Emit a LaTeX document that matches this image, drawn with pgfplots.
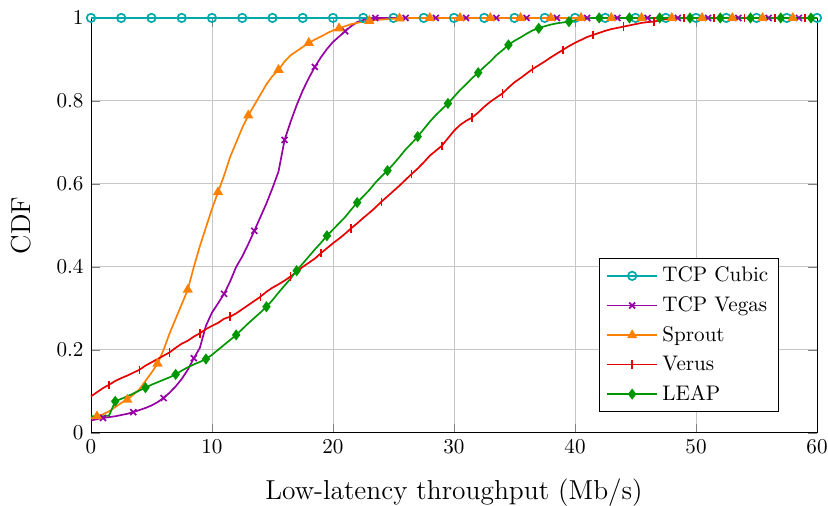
\documentclass[border=0pt]{standalone}
\usepackage{pgfplots}
\usepackage{pgfplotstable}
\usetikzlibrary{calc}
\pgfplotsset{compat=1.18}
\definecolor{cubicc}{RGB}{0,170,170}
\definecolor{vegasc}{RGB}{150,0,165}
\definecolor{sproutc}{RGB}{255,128,0}
\definecolor{verusc}{RGB}{230,0,0}
\definecolor{leapc}{RGB}{0,150,0}
\pgfplotstableread{
x cubic vegas sprout verus leap
0 1 0.030 0.035 0.088 0.040
0.5 1 0.033 0.040 0.098 0.040
1 1 0.036 0.045 0.108 0.040
1.5 1 0.038 0.052 0.116 0.042
2 1 0.040 0.062 0.125 0.076
2.5 1 0.043 0.072 0.132 0.082
3 1 0.046 0.080 0.138 0.088
3.5 1 0.050 0.092 0.145 0.095
4 1 0.055 0.105 0.152 0.102
4.5 1 0.060 0.125 0.162 0.109
5 1 0.066 0.145 0.170 0.116
5.5 1 0.074 0.167 0.178 0.122
6 1 0.084 0.200 0.186 0.128
6.5 1 0.097 0.240 0.194 0.134
7 1 0.112 0.275 0.205 0.141
7.5 1 0.130 0.310 0.215 0.150
8 1 0.152 0.345 0.222 0.158
8.5 1 0.180 0.400 0.232 0.165
9 1 0.205 0.450 0.240 0.171
9.5 1 0.258 0.495 0.250 0.178
10 1 0.290 0.540 0.258 0.188
10.5 1 0.312 0.580 0.265 0.200
11 1 0.335 0.620 0.275 0.212
11.5 1 0.365 0.665 0.280 0.224
12 1 0.400 0.700 0.288 0.236
12.5 1 0.425 0.735 0.298 0.250
13 1 0.455 0.765 0.308 0.264
13.5 1 0.487 0.790 0.318 0.277
14 1 0.520 0.815 0.328 0.290
14.5 1 0.553 0.840 0.340 0.304
15 1 0.590 0.860 0.350 0.320
15.5 1 0.630 0.875 0.358 0.338
16 1 0.706 0.895 0.367 0.355
16.5 1 0.750 0.910 0.377 0.372
17 1 0.790 0.920 0.388 0.391
17.5 1 0.825 0.930 0.400 0.408
18 1 0.855 0.940 0.410 0.425
18.5 1 0.882 0.948 0.420 0.442
19 1 0.905 0.955 0.433 0.458
19.5 1 0.925 0.963 0.445 0.475
20 1 0.942 0.970 0.457 0.490
20.5 1 0.955 0.975 0.468 0.505
21 1 0.968 0.980 0.480 0.520
21.5 1 0.980 0.985 0.493 0.538
22 1 0.990 0.988 0.505 0.555
22.5 1 0.995 0.991 0.518 0.570
23 1 0.998 0.993 0.530 0.585
23.5 1 1 0.995 0.543 0.603
24 1 1 0.996 0.557 0.618
24.5 1 1 0.997 0.570 0.632
25 1 1 0.998 0.583 0.648
25.5 1 1 0.999 0.596 0.665
26 1 1 1 0.610 0.683
26.5 1 1 1 0.624 0.698
27 1 1 1 0.637 0.714
27.5 1 1 1 0.652 0.732
28 1 1 1 0.668 0.750
28.5 1 1 1 0.680 0.766
29 1 1 1 0.692 0.780
29.5 1 1 1 0.710 0.794
30 1 1 1 0.728 0.810
30.5 1 1 1 0.742 0.826
31 1 1 1 0.752 0.840
31.5 1 1 1 0.760 0.855
32 1 1 1 0.772 0.868
32.5 1 1 1 0.786 0.882
33 1 1 1 0.798 0.895
33.5 1 1 1 0.808 0.910
34 1 1 1 0.818 0.922
34.5 1 1 1 0.832 0.935
35 1 1 1 0.845 0.945
35.5 1 1 1 0.855 0.953
36 1 1 1 0.866 0.962
36.5 1 1 1 0.877 0.970
37 1 1 1 0.886 0.975
37.5 1 1 1 0.895 0.980
38 1 1 1 0.905 0.984
38.5 1 1 1 0.914 0.987
39 1 1 1 0.923 0.989
39.5 1 1 1 0.932 0.991
40 1 1 1 0.940 0.994
40.5 1 1 1 0.947 0.997
41 1 1 1 0.954 0.999
41.5 1 1 1 0.959 1
42 1 1 1 0.964 1
42.5 1 1 1 0.969 1
43 1 1 1 0.973 1
43.5 1 1 1 0.976 1
44 1 1 1 0.979 1
44.5 1 1 1 0.982 1
45 1 1 1 0.985 1
45.5 1 1 1 0.988 1
46 1 1 1 0.990 1
46.5 1 1 1 0.991 1
47 1 1 1 0.994 1
47.5 1 1 1 0.997 1
48 1 1 1 0.999 1
48.5 1 1 1 1 1
49 1 1 1 1 1
49.5 1 1 1 1 1
50 1 1 1 1 1
50.5 1 1 1 1 1
51 1 1 1 1 1
51.5 1 1 1 1 1
52 1 1 1 1 1
52.5 1 1 1 1 1
53 1 1 1 1 1
53.5 1 1 1 1 1
54 1 1 1 1 1
54.5 1 1 1 1 1
55 1 1 1 1 1
55.5 1 1 1 1 1
56 1 1 1 1 1
56.5 1 1 1 1 1
57 1 1 1 1 1
57.5 1 1 1 1 1
58 1 1 1 1 1
58.5 1 1 1 1 1
59 1 1 1 1 1
59.5 1 1 1 1 1
60 1 1 1 1 1
}\datatable
\begin{document}
\begin{tikzpicture}
\begin{axis}[
  scale only axis,
  width=344pt, height=196.6pt,
  xmin=0, xmax=60, ymin=0, ymax=1,
  xtick={0,10,...,60},
  ytick={0,0.2,...,1},
  grid=major,
  major grid style={gray!45},
  xlabel={Low-latency throughput (Mb/s)},
  ylabel={CDF},
  label style={font=\fontsize{13}{15}\selectfont},
  ylabel shift=5pt,
  xlabel shift=5pt,
  legend style={at={(0.948,0.05)}, anchor=south east, row sep=1.5pt},
  legend cell align=left,
  legend image code/.code={\draw[mark repeat=2,mark phase=2] plot coordinates {(0cm,0cm) (0.42cm,0cm) (0.84cm,0cm)};},
  every axis plot/.append style={thick, mark size=2pt, mark repeat=5},
  clip=false,
]
\addplot[color=cubicc, mark=o, mark phase=1] table[x=x,y=cubic] {\datatable};
\addlegendentry{TCP Cubic}
\addplot[color=vegasc, mark=x, mark phase=3] table[x=x,y=vegas] {\datatable};
\addlegendentry{TCP Vegas}
\addplot[color=sproutc, mark=triangle*, mark phase=2] table[x=x,y=sprout] {\datatable};
\addlegendentry{Sprout}
\addplot[color=verusc, mark=|, mark phase=4] table[x=x,y=verus] {\datatable};
\addlegendentry{Verus}
\addplot[color=leapc, mark=diamond*, mark phase=5] table[x=x,y=leap] {\datatable};
\addlegendentry{LEAP}
\end{axis}
\pgfresetboundingbox
\path[use as bounding box] ($(current axis.south west)+(-43.1pt,-34.5pt)$) rectangle ($(current axis.north east)+(5.2pt,8.5pt)$);
\end{tikzpicture}
\end{document}
